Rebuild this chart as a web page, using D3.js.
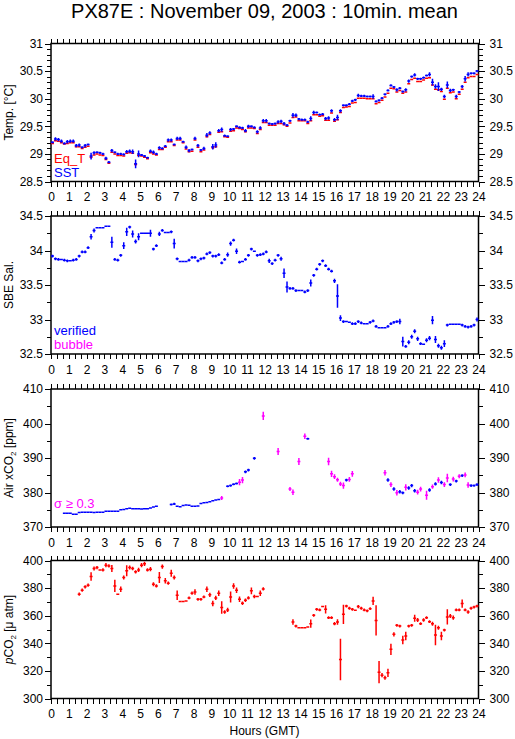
<!DOCTYPE html>
<meta charset="utf-8">
<style>

body {
  margin: 0;
  background: #fff;
}

svg {
  display: block;
  font-family: "Liberation Sans", Arial, sans-serif;
}

.tick text {
  font-size: 12px;
  fill: #000;
}

.marks path {
  fill: none;
  stroke-width: 1.5;
}

</style>
<svg></svg>
<script src="https://cdn.jsdelivr.net/npm/d3@7"></script>
<script>

var width = 515,
    height = 739;

// 10-minute means, one value per slot (0:00, 0:10, ... 23:50), null = no data
var eqT = [
  29.19,29.24,29.23,29.20,29.18,29.19,29.20,29.20,29.13,29.13,29.10,29.12,
  29.14,28.94,28.98,29.00,28.98,28.97,28.90,28.83,29.03,29.00,28.97,28.97,
  28.96,29.01,29.02,29.01,28.81,28.97,28.96,28.94,28.91,29.02,29.00,28.98,
  29.08,29.08,29.12,29.22,29.22,29.15,29.25,29.25,29.20,29.09,29.04,29.05,
  29.25,29.12,29.04,29.07,29.31,29.35,29.11,29.13,29.39,29.40,29.31,29.30,
  29.41,29.42,29.47,29.46,29.44,29.40,29.47,29.47,29.46,29.37,29.44,29.57,
  29.57,29.52,29.52,29.52,29.55,29.55,29.53,29.50,29.56,29.66,29.67,29.60,
  29.60,29.60,29.55,29.60,29.71,29.71,29.68,29.69,29.61,29.61,29.74,29.59,
  29.62,29.75,29.84,29.85,29.86,29.92,29.93,30.01,30.01,30.01,30.00,30.00,
  30.00,29.91,29.93,29.97,30.03,30.10,30.19,30.18,30.12,30.15,30.10,30.12,
  30.27,30.35,30.37,30.31,30.31,30.34,30.37,30.38,30.25,30.17,30.16,30.13,
  29.99,30.19,30.11,30.12,30.00,30.08,30.17,30.30,30.38,30.40,30.40,30.44
];
var eqTSd = [
  .01,.01,.01,.01,.01,.01,.01,.01,.01,.01,.01,.01,
  .01,.02,.01,.01,.01,.01,.01,.01,.01,.01,.01,.01,
  .01,.01,.01,.01,.02,.01,.01,.01,.01,.01,.01,.01,
  .01,.01,.01,.01,.01,.01,.01,.01,.01,.01,.01,.01,
  .01,.01,.01,.01,.01,.01,.02,.01,.01,.01,.01,.01,
  .01,.01,.01,.01,.01,.01,.01,.01,.01,.01,.01,.01,
  .01,.01,.01,.01,.01,.01,.01,.01,.01,.01,.01,.01,
  .01,.01,.01,.01,.01,.01,.01,.01,.01,.01,.01,.01,
  .01,.01,.01,.01,.01,.01,.01,.01,.01,.01,.01,.01,
  .01,.01,.01,.01,.01,.01,.01,.01,.01,.01,.01,.01,
  .01,.01,.01,.01,.01,.01,.01,.01,.01,.01,.02,.01,
  .01,.01,.01,.01,.01,.01,.01,.01,.01,.01,.01,.01
];
var sst = [
  29.21,29.27,29.26,29.23,29.19,29.22,29.23,29.23,29.15,29.16,29.12,29.15,
  29.17,28.96,29.02,29.03,29.02,29.00,28.92,28.85,29.06,29.03,29.00,29.00,
  28.99,29.04,29.05,29.04,28.82,29.00,28.98,28.96,28.93,29.05,29.03,29.00,
  29.11,29.10,29.14,29.25,29.25,29.17,29.28,29.28,29.22,29.12,29.06,29.08,
  29.28,29.15,29.07,29.10,29.34,29.38,29.13,29.16,29.42,29.44,29.33,29.32,
  29.44,29.45,29.50,29.48,29.47,29.42,29.50,29.50,29.48,29.40,29.47,29.60,
  29.60,29.55,29.54,29.55,29.58,29.59,29.55,29.52,29.60,29.70,29.70,29.63,
  29.62,29.62,29.58,29.64,29.75,29.75,29.71,29.72,29.64,29.65,29.78,29.62,
  29.66,29.78,29.88,29.88,29.90,29.96,29.98,30.06,30.05,30.05,30.04,30.04,
  30.04,29.95,29.97,30.01,30.08,30.15,30.24,30.21,30.16,30.19,30.13,30.16,
  30.32,30.40,30.43,30.36,30.36,30.38,30.42,30.44,30.30,30.22,30.22,30.17,
  30.04,30.25,30.15,30.16,30.04,30.12,30.22,30.36,30.44,30.46,30.46,30.50
];
var sstSd = [
  .02,.03,.03,.03,.02,.03,.03,.03,.03,.03,.02,.03,
  .02,.06,.03,.02,.02,.02,.03,.02,.03,.02,.02,.02,
  .02,.03,.03,.04,.08,.06,.02,.02,.02,.03,.03,.02,
  .03,.02,.02,.03,.03,.02,.03,.03,.02,.03,.03,.02,
  .03,.03,.02,.03,.04,.03,.05,.05,.03,.04,.02,.02,
  .03,.02,.02,.02,.02,.03,.03,.02,.02,.03,.03,.03,
  .03,.02,.02,.02,.03,.03,.03,.02,.02,.04,.03,.02,
  .02,.02,.02,.04,.03,.02,.02,.02,.03,.03,.03,.03,
  .05,.03,.02,.02,.02,.02,.02,.03,.02,.02,.02,.02,
  .04,.02,.02,.02,.02,.02,.02,.02,.03,.02,.02,.03,
  .03,.02,.03,.02,.02,.02,.02,.04,.06,.04,.08,.03,
  .03,.06,.03,.02,.03,.02,.03,.05,.04,.02,.02,.02
];
var sal = [
  33.92,33.88,33.87,33.87,33.86,33.85,33.85,33.86,33.87,33.92,33.98,33.98,
  34.04,34.20,34.29,34.33,34.33,34.33,34.35,34.35,34.12,33.87,33.86,33.93,
  34.07,34.27,34.34,34.24,34.13,34.20,34.25,34.25,34.25,34.25,34.02,34.07,
  34.24,34.29,34.26,34.26,34.27,34.10,33.88,33.84,33.84,33.84,33.86,33.90,
  33.90,33.85,33.88,33.89,33.95,33.97,33.92,33.92,33.94,33.82,33.87,33.94,
  34.10,34.15,33.99,33.83,33.84,33.87,33.93,34.02,33.99,33.93,33.94,33.95,
  33.98,33.85,33.81,33.86,33.93,33.88,33.67,33.47,33.45,33.45,33.42,33.42,
  33.42,33.40,33.42,33.53,33.64,33.73,33.80,33.85,33.78,33.73,33.70,33.56,
  33.34,33.02,32.97,32.97,32.96,32.94,32.94,32.97,32.95,32.94,32.94,32.96,
  32.98,32.90,32.88,32.88,32.88,32.90,32.94,32.96,32.97,32.97,32.68,32.61,
  32.67,32.75,32.83,32.72,32.65,32.64,32.70,32.73,32.99,32.71,32.62,32.59,
  32.65,32.92,32.93,32.93,32.93,32.93,32.92,32.90,32.89,32.90,32.92,33.00
];
var salSd = [
  .02,.02,.02,.01,.02,.02,.01,.02,.02,.02,.02,.02,
  .02,.04,.03,.01,.01,.01,.01,.01,.08,.02,.02,.02,
  .05,.06,.02,.05,.03,.05,.01,.01,.01,.05,.02,.02,
  .03,.02,.01,.01,.02,.07,.02,.01,.01,.01,.02,.02,
  .02,.02,.02,.02,.02,.02,.02,.02,.02,.02,.02,.03,
  .03,.02,.04,.02,.01,.02,.02,.02,.01,.02,.02,.02,
  .02,.03,.02,.02,.02,.03,.07,.08,.02,.02,.02,.01,
  .01,.02,.02,.05,.02,.02,.02,.02,.02,.02,.02,.03,
  .17,.04,.02,.01,.01,.02,.02,.02,.02,.01,.01,.02,
  .02,.02,.01,.01,.01,.02,.02,.02,.02,.04,.07,.02,
  .03,.03,.03,.03,.02,.01,.03,.03,.06,.05,.03,.03,
  .05,.02,.01,.01,.01,.01,.02,.02,.02,.02,.02,.03
];
var xco2 = [
  null,null,null,null,374.0,374.0,374.0,373.7,373.7,374.2,374.3,374.3,
  374.3,374.3,374.2,374.3,374.3,374.3,374.6,374.6,374.6,374.6,374.6,375.0,
  375.1,375.3,375.4,375.3,375.3,375.3,375.2,375.3,375.3,375.5,375.8,376.0,
  null,null,null,null,376.5,376.7,376.0,375.9,376.2,376.4,376.3,376.0,
  376.0,376.1,376.8,377.0,377.1,377.3,377.6,377.8,378.0,378.4,null,381.8,
  382.0,382.4,382.6,383.0,383.6,386.0,386.5,null,389.9,null,null,402.2,
  null,null,null,null,391.9,null,null,null,381.0,380.1,null,389.0,
  null,396.3,395.6,null,null,null,null,null,null,389.0,385.4,384.6,
  383.7,382.5,382.0,383.6,383.8,385.4,null,null,null,null,null,null,
  null,null,null,null,385.7,383.6,382.3,381.0,379.9,380.2,379.9,381.5,
  381.3,382.0,380.5,380.1,381.0,null,379.2,380.7,381.7,382.5,383.6,382.9,
  382.3,384.2,382.3,383.9,383.3,384.7,384.9,385.1,382.2,382.0,382.0,382.3
];
var xco2Sd = [
  0,0,0,0,.1,.1,.1,.1,.1,.1,.1,.1,
  .1,.1,.1,.1,.1,.1,.1,.1,.1,.1,.1,.2,
  .1,.1,.1,.1,.1,.1,.1,.1,.1,.2,.2,.1,
  0,0,0,0,.3,.3,.1,.1,.2,.1,.1,.1,
  .1,.1,.2,.2,.2,.2,.2,.2,.2,.6,0,.3,
  .3,.3,.3,.9,.9,.4,.4,0,.4,0,0,1.2,
  0,0,0,0,1.0,0,0,0,.6,.8,0,1.0,
  0,.8,.3,0,0,0,0,0,0,1.1,.9,.7,
  .6,.6,.9,.4,.7,.8,0,0,0,0,0,0,
  0,0,0,0,.8,.5,.7,.5,.8,.5,.4,.9,
  .5,.5,.5,.7,.7,0,1.3,.5,.6,.5,.8,.5,
  .7,1.2,.4,.7,.4,.6,.4,.7,.8,.4,.3,.4
];
// slots whose standard deviation is >= 0.3 ppm
var xco2HighSigma = [57,63,64,71,76,80,81,83,85,93,94,95,96,97,98,100,101,
  112,114,116,119,123,124,126,128,130,132,133,135,137,139,140];
var pco2 = [
  null,null,null,null,null,null,null,null,null,375.6,378.5,380.9,
  382.1,388.4,394.2,394.9,393.2,393.2,396.6,396.1,394.2,381.6,375.6,379.2,
  387.7,392.5,394.9,394.2,391.8,393.2,396.6,397.6,393.2,393.7,382.8,381.6,
  387.7,395.6,385.3,383.6,390.8,387.7,374.8,370.2,370.2,370.7,372.9,376.3,
  377.2,371.9,371.9,373.6,379.2,375.1,368.8,372.9,376.3,365.9,362.7,364.2,
  373.6,381.6,378.5,371.9,369.0,371.2,372.9,378.0,373.9,373.9,376.3,379.4,
  null,null,null,null,null,null,null,null,null,355.4,352.5,351.3,
  351.3,351.3,351.8,354.2,360.3,364.6,364.2,366.6,364.6,358.6,358.6,354.2,
  355.4,328.3,361.0,367.0,365.4,364.6,363.9,366.6,365.4,364.2,363.5,365.1,
  370.7,356.6,319.1,316.9,315.0,318.6,335.6,346.5,353.0,352.5,342.4,345.3,
  352.5,353.0,358.1,356.9,354.2,356.9,358.6,355.7,354.2,346.0,351.3,345.3,
  349.6,359.1,359.8,358.6,364.2,364.2,368.8,364.2,362.7,365.4,366.3,367.0
];
var pco2Sd = [
  0,0,0,0,0,0,0,0,0,1.2,1.2,1.2,
  1.2,3,1.5,1.2,.5,1.2,1.5,1.2,2.5,4.5,.5,2,
  1.5,4,1.5,1.2,1.2,1.5,1.5,1.5,1.2,1.5,1.5,1.2,
  4,1.5,2,1.2,2.5,1.5,3.5,.3,.3,.3,1,1.2,
  2,1,1,1,2,1.5,2,1.5,2,4.5,1.2,1.5,
  4,2,2,2,1.2,1.2,1.2,2.5,1.2,.5,2,1.2,
  0,0,0,0,0,0,0,0,0,2,1,.5,
  .3,.3,.5,3,1,1,1,.5,3,1,1,1.2,
  2,15,7,1,1,1,.5,1.2,1,1,1,1,
  3,11,8,1.5,1.5,3,4,1.5,1,1,3,3,
  1,1,2.5,1.5,1,1.2,1,1,1.5,7.5,1.5,3,
  1,5.5,1.5,1.5,1,1,3,1,1.2,1,1,1
];

var red = "#ff0000", blue = "#0000ff", magenta = "#ff00ff";

var svg = d3.select("svg")
    .attr("width", width)
    .attr("height", height);

var x = d3.scaleLinear()
    .domain([0, 24])
    .range([51, 478.5]);

var panels = [
  {top: 43.5, domain: [28.5, 31], major: 0.5, minor: 0.1,
   title: ["Temp. [°C]"],
   series: [
     {v: eqT, sd: eqTSd, color: function() { return red; }},
     {v: sst, sd: sstSd, color: function() { return blue; }}
   ],
   legend: [["Eq_T", red], ["SST", blue]]},
  {top: 216, domain: [32.5, 34.5], major: 0.5, minor: 0.25,
   title: ["SBE Sal."],
   series: [{v: sal, sd: salSd, color: function() { return blue; }}],
   legend: [["verified", blue], ["bubble", magenta]]},
  {top: 389, domain: [370, 410], major: 10, minor: 5,
   title: ["Air xCO", "2", " [ppm]"],
   series: [{v: xco2, sd: xco2Sd, color: function(i) {
     return xco2HighSigma.indexOf(i) >= 0 ? magenta : blue; }}],
   legend: [["σ ≥ 0.3", magenta]]},
  {top: 560.5, domain: [300, 400], major: 20, minor: 10,
   title: ["p", "CO", "2", " [μ atm]"],
   series: [{v: pco2, sd: pco2Sd, color: function() { return red; }}],
   legend: []}
];

var ph = 138;
var hourTicks = d3.range(0, 25);
var minuteTicks = d3.range(0, 73).map(function(d) { return d / 3; });

function stepRange(lo, hi, step) {
  var n = Math.round((hi - lo) / step);
  return d3.range(n + 1).map(function(i) { return +(lo + i * step).toFixed(3); });
}

panels.forEach(function(p, pi) {
  var y = d3.scaleLinear()
      .domain(p.domain)
      .range([p.top + ph, p.top]);

  var g = svg.append("g");
  var fmt = d3.format("~f");

  // left / right axes
  g.append("g")
      .attr("transform", "translate(" + x(0) + ",0)")
      .call(d3.axisLeft(y).tickValues(stepRange(p.domain[0], p.domain[1], p.minor)).tickSize(4).tickFormat(""));
  g.append("g")
      .attr("transform", "translate(" + x(0) + ",0)")
      .call(d3.axisLeft(y).tickValues(stepRange(p.domain[0], p.domain[1], p.major)).tickSize(6).tickPadding(2).tickFormat(fmt));
  g.append("g")
      .attr("transform", "translate(" + x(24) + ",0)")
      .call(d3.axisRight(y).tickValues(stepRange(p.domain[0], p.domain[1], p.minor)).tickSize(4).tickFormat(""));
  g.append("g")
      .attr("transform", "translate(" + x(24) + ",0)")
      .call(d3.axisRight(y).tickValues(stepRange(p.domain[0], p.domain[1], p.major)).tickSize(6).tickPadding(5).tickFormat(fmt));

  // top / bottom axes
  g.append("g")
      .attr("transform", "translate(0," + p.top + ")")
      .call(d3.axisTop(x).tickValues(minuteTicks).tickSize(5).tickFormat(""));
  g.append("g")
      .attr("transform", "translate(0," + (p.top + ph) + ")")
      .call(d3.axisBottom(x).tickValues(minuteTicks).tickSize(5).tickFormat(""));
  g.append("g")
      .attr("transform", "translate(0," + (p.top + ph) + ")")
      .call(d3.axisBottom(x).tickValues(hourTicks).tickSize(5).tickPadding(6).tickFormat(d3.format("d")));

  g.selectAll(".domain").remove();
  g.selectAll(".tick line").attr("shape-rendering", "crispEdges");

  g.append("rect")
      .attr("x", x(0))
      .attr("y", p.top)
      .attr("width", x(24) - x(0))
      .attr("height", ph)
      .attr("fill", "none")
      .attr("stroke", "#000")
      .attr("stroke-width", 1.5);

  // marks: 10-min span horizontally, +/- sd vertically
  var marks = g.append("g").attr("class", "marks");
  p.series.forEach(function(s) {
    var pts = s.v.map(function(v, i) { return {i: i, v: v, sd: s.sd[i]}; })
        .filter(function(d) { return d.v != null; });
    marks.selectAll(null)
        .data(pts)
      .enter().append("path")
        .attr("stroke", function(d) { return s.color(d.i); })
        .attr("d", function(d) {
          var xc = x((d.i + 0.5) / 6);
          return "M" + x(d.i / 6) + "," + y(d.v) + "H" + x((d.i + 1) / 6) +
              "M" + xc + "," + y(d.v - d.sd) + "V" + y(d.v + d.sd);
        });
  });

  // legend text
  p.legend.forEach(function(l, li) {
    g.append("text")
        .attr("x", 54)
        .attr("y", p.top + ph - 19 + li * 14)
        .attr("font-size", 13)
        .attr("fill", l[1])
        .text(l[0]);
  });

  // axis title
  var t = g.append("text")
      .attr("transform", "translate(13," + (p.top + ph / 2) + ") rotate(-90)")
      .attr("text-anchor", "middle")
      .attr("font-size", 12);
  if (pi == 3) {
    t.append("tspan").attr("font-style", "italic").text("p");
    t.append("tspan").text("CO");
    t.append("tspan").attr("font-size", 8).attr("dy", 3).text("2");
    t.append("tspan").attr("dy", -3).text(" [μ atm]");
  } else if (pi == 2) {
    t.append("tspan").text("Air xCO");
    t.append("tspan").attr("font-size", 8).attr("dy", 3).text("2");
    t.append("tspan").attr("dy", -3).text(" [ppm]");
  } else {
    t.text(p.title[0]);
  }
});

svg.append("text")
    .attr("x", 264.5)
    .attr("y", 18)
    .attr("text-anchor", "middle")
    .attr("font-size", 20)
    .text("PX87E : November 09, 2003 : 10min. mean");

svg.append("text")
    .attr("x", 264.5)
    .attr("y", 735)
    .attr("text-anchor", "middle")
    .attr("font-size", 12)
    .text("Hours (GMT)");

</script>
